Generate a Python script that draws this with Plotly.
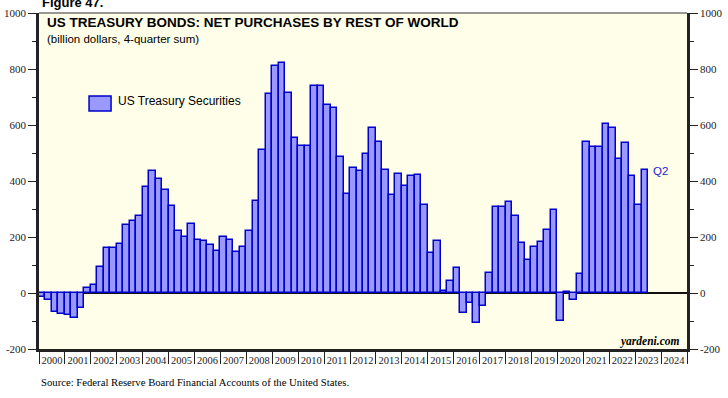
import plotly.graph_objects as go

# ---- data: 4-quarter sum, billion dollars, 2000Q1 .. 2023Q2 ----
start_year = 2000
values = [
    -14, -24, -68, -76,      # 2000
    -79, -89, -54, 19,       # 2001
    27, 93, 160, 160,        # 2002
    175, 243, 258, 276,      # 2003
    380, 435, 407, 367,      # 2004
    312, 220, 200, 245,      # 2005
    188, 185, 170, 150,      # 2006
    200, 188, 146, 165,      # 2007
    220, 327, 510, 712,      # 2008
    810, 821, 714, 554,      # 2009
    524, 524, 738, 738,      # 2010
    673, 660, 485, 355,      # 2011
    445, 435, 495, 588,      # 2012
    538, 440, 349, 424,      # 2013
    382, 417, 420, 314,      # 2014
    143, 185, 6, 43,         # 2015
    88, -71, -34, -108,      # 2016
    -48, 71, 307, 307,       # 2017
    324, 276, 177, 119,      # 2018
    163, 181, 224, 298,      # 2019
    -101, 2, -26, 67,        # 2020
    538, 520, 520, 605,      # 2021
    590, 480, 535, 417,      # 2022
    315, 438,                # 2023
]
year_labels = [str(y) for y in range(2000, 2025)]
y_ticks = [-200, 0, 200, 400, 600, 800, 1000]
series_name = "US Treasury Securities"
last_label = "Q2"

# quarter positions (center of each quarter on a fractional-year axis)
xs = [start_year + i / 4 + 0.125 for i in range(len(values))]
year_centers = [int(y) + 0.5 for y in year_labels]
year_edges = list(range(2000, 2026))

FILL = "#9999FF"
EDGE = "#0000CC"
BG = "#FFFEE8"
SERIF = "Liberation Serif, Times New Roman, serif"
SANS = "Liberation Sans, Arial, sans-serif"

fig = go.Figure()
fig.add_trace(go.Bar(
    x=xs, y=values, width=0.25, name=series_name,
    marker=dict(color=FILL, line=dict(color=EDGE, width=1.5)),
    showlegend=False,
))
# invisible companion trace for the right-hand axis
fig.add_trace(go.Scatter(
    x=xs, y=values, yaxis="y2", mode="lines", opacity=0,
    hoverinfo="skip", showlegend=False,
))

yaxis_common = dict(
    range=[-200, 1000], tickvals=y_ticks, ticktext=[str(v) for v in y_ticks],
    ticks="outside", ticklen=8, tickwidth=1, tickcolor="#222",
    minor=dict(dtick=100, tick0=0, ticks="outside", ticklen=4, tickcolor="#222"),
    showgrid=False, showline=True, linewidth=2.5, linecolor="#222",
    tickfont=dict(family=SERIF, size=11, color="#222"),
    fixedrange=True, automargin=False,
)

fig.update_layout(
    width=728, height=398,
    margin=dict(l=39, r=41, t=13, b=49, autoexpand=False),
    paper_bgcolor="white", plot_bgcolor=BG,
    bargap=0,
    xaxis=dict(
        range=[2000, 2025],
        tickvals=year_centers, ticktext=year_labels,
        ticks="outside", ticklen=0, tickcolor="#222",
        minor=dict(tickvals=year_edges, ticks="outside", ticklen=12, tickwidth=1, tickcolor="#222"),
        showgrid=False, showline=True, linewidth=2.5, linecolor="#222",
        tickfont=dict(family=SERIF, size=10.5, color="#222"),
        zeroline=False, automargin=False, fixedrange=True,
    ),
    yaxis=dict(**yaxis_common, side="left", zeroline=True, zerolinecolor="#111", zerolinewidth=1.5),
    yaxis2=dict(**yaxis_common, side="right", overlaying="y", zeroline=False),
    shapes=[
        dict(type="line", xref="paper", yref="paper", x0=0, x1=1, y0=1, y1=1,
             line=dict(color="#333", width=1.2)),
        # legend swatch
        dict(type="rect", xref="paper", yref="paper",
             x0=(89 - 39) / 647.5, x1=(111 - 39) / 647.5,
             y0=(349 - 111) / 336, y1=(349 - 96) / 336,
             fillcolor=FILL, line=dict(color=EDGE, width=1.5)),
    ],
    annotations=[
        dict(text="<b>Figure 47.</b>", xref="paper", yref="paper", x=(40 - 39) / 647.5, y=1,
             xanchor="left", yanchor="bottom", yshift=1, showarrow=False,
             font=dict(family=SANS, size=13, color="#000")),
        dict(text="<b>US TREASURY BONDS: NET PURCHASES BY REST OF WORLD</b>",
             xref="paper", yref="paper", x=(45 - 39) / 647.5, y=(349 - 22) / 336,
             xanchor="left", yanchor="middle", showarrow=False,
             font=dict(family=SANS, size=13.5, color="#000")),
        dict(text="(billion dollars, 4-quarter sum)",
             xref="paper", yref="paper", x=(45 - 39) / 647.5, y=(349 - 39) / 336,
             xanchor="left", yanchor="middle", showarrow=False,
             font=dict(family=SANS, size=11.5, color="#000")),
        dict(text=series_name, xref="paper", yref="paper",
             x=(116 - 39) / 647.5, y=(349 - 101) / 336,
             xanchor="left", yanchor="middle", showarrow=False,
             font=dict(family=SANS, size=12, color="#000")),
        dict(text=last_label, x=xs[-1], y=values[-1], xref="x", yref="y",
             xanchor="left", yanchor="middle", xshift=6, yshift=-1, showarrow=False,
             font=dict(family=SANS, size=11.5, color="#2222CC")),
        dict(text="<b><i>yardeni.com</i></b>", xref="paper", yref="paper",
             x=(682 - 39) / 647.5, y=(349 - 341) / 336,
             xanchor="right", yanchor="middle", showarrow=False,
             font=dict(family=SERIF, size=11.5, color="#000")),
        dict(text="Source: Federal Reserve Board Financial Accounts of the United States.",
             xref="paper", yref="paper", x=(39 - 39) / 647.5, y=-(382 - 349) / 336,
             xanchor="left", yanchor="middle", showarrow=False,
             font=dict(family=SERIF, size=10.7, color="#000")),
    ],
)

fig.write_html(
    "out.html",
    config={"displayModeBar": False},
    post_script="document.body.style.margin='0';document.body.style.overflow='hidden';",
)
